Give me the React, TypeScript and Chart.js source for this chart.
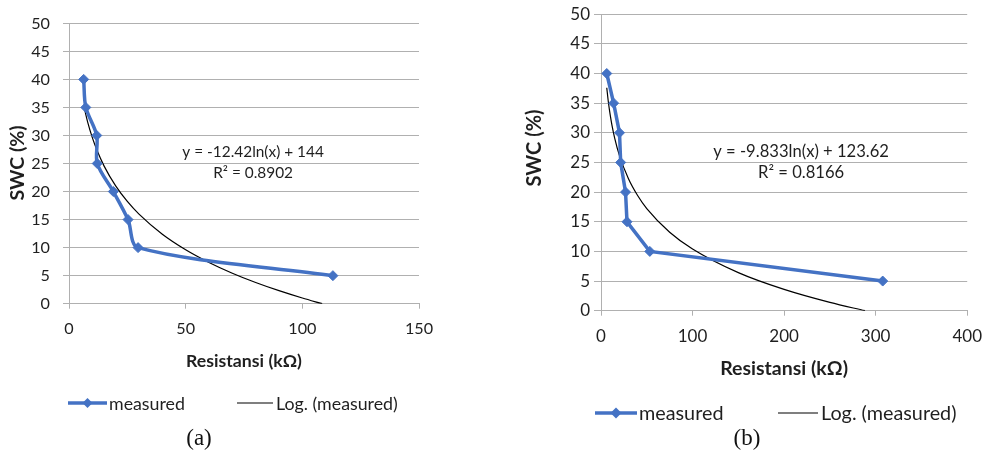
import React, { useEffect, useRef } from "react";
import { Chart, registerables } from "chart.js";

Chart.register(...registerables);

// ---------- data ----------
const swcLevels = [40, 35, 30, 25, 20, 15, 10, 5];
const resistanceA = [6.3, 7.2, 11.9, 12.1, 19.0, 25.3, 29.6, 113.1];
const resistanceB = [6.3, 13.8, 20.2, 21.5, 26.8, 28.4, 53.3, 307.7];

// logarithmic trend lines
const trendAX = [6.3, 8, 10, 12, 15, 20, 25, 30, 40, 50, 60, 70, 80, 90, 100, 108.5];
const trendAY = [35.35, 32.38, 29.61, 27.35, 24.58, 21.0, 18.23, 15.97, 12.39, 9.62, 7.36, 5.44, 3.78, 2.32, 1.01, 0];
const trendBX = [6.3, 8, 10, 12, 15, 20, 30, 40, 50, 75, 100, 150, 200, 250, 288.4];
const trendBY = [37.59, 35.24, 33.05, 31.26, 29.06, 26.23, 22.25, 19.42, 17.22, 13.24, 10.41, 6.42, 3.59, 1.4, 0];

const equationA = ["y = -12.42ln(x) + 144", "R² = 0.8902"];
const equationB = ["y = -9.833ln(x) + 123.62", "R² = 0.8166"];
const equationPosA = { x: 78.9, y: 27.1 };
const equationPosB = { x: 218.6, y: 26.9 };

const seriesName = "measured";
const trendName = "Log. (measured)";
const xTitle = "Resistansi (kΩ)";
const yTitle = "SWC (%)";
const captions = ["(a)", "(b)"];

const yMax = 50;
const yStep = 5;
const xMaxA = 150;
const xStepA = 50;
const xMaxB = 400;
const xStepB = 100;

// ---------- styles ----------
const BLUE = "#4472C4";
const GRID = "#b0b0b0";
const TEXT = "#1f1f1f";
const FONT = "Lato, 'Noto Sans', sans-serif";

const overlayPlugin = {
  id: "overlay",
  afterDraw(chart: any, _args: any, opts: any) {
    const ctx = chart.ctx as CanvasRenderingContext2D;
    ctx.save();
    ctx.fillStyle = TEXT;

    // y-axis title
    ctx.save();
    ctx.font = `bold ${opts.yTitleSize}px ${FONT}`;
    ctx.translate(opts.yTitleX, opts.yTitleY);
    ctx.rotate(-Math.PI / 2);
    ctx.textAlign = "center";
    ctx.textBaseline = "middle";
    ctx.fillText(yTitle, 0, 0);
    ctx.restore();

    // equation
    ctx.font = `${opts.eqSize}px ${FONT}`;
    ctx.textAlign = "center";
    ctx.textBaseline = "middle";
    const ex = chart.scales.x.getPixelForValue(opts.eqPos.x);
    const ey = chart.scales.y.getPixelForValue(opts.eqPos.y);
    opts.equation.forEach((line: string, i: number) => {
      ctx.fillText(line, ex, ey + i * opts.eqGap);
    });

    // legend
    const ly = opts.legendY;
    const ds0 = chart.data.datasets[0];
    const ds1 = chart.data.datasets[1];
    ctx.font = `${opts.legendSize}px ${FONT}`;
    ctx.textAlign = "left";
    ctx.textBaseline = "middle";
    // item 1
    const [a1, a2] = opts.item1;
    ctx.strokeStyle = ds0.borderColor;
    ctx.lineWidth = ds0.borderWidth;
    ctx.beginPath();
    ctx.moveTo(a1, ly);
    ctx.lineTo(a2, ly);
    ctx.stroke();
    const cx = (a1 + a2) / 2;
    const r = opts.legendMarker;
    ctx.fillStyle = ds0.pointBackgroundColor;
    ctx.beginPath();
    ctx.moveTo(cx - r, ly);
    ctx.lineTo(cx, ly - r);
    ctx.lineTo(cx + r, ly);
    ctx.lineTo(cx, ly + r);
    ctx.closePath();
    ctx.fill();
    ctx.fillStyle = TEXT;
    ctx.fillText(ds0.label, a2 + 2, ly + 1);
    // item 2
    const [b1, b2] = opts.item2;
    ctx.strokeStyle = ds1.borderColor;
    ctx.lineWidth = ds1.borderWidth;
    ctx.beginPath();
    ctx.moveTo(b1, ly);
    ctx.lineTo(b2, ly);
    ctx.stroke();
    ctx.fillText(ds1.label, b2 + 3, ly + 1);

    ctx.restore();
  },
};

type PanelCfg = {
  xs: number[];
  ys: number[];
  tx: number[];
  ty: number[];
  xMax: number;
  xStep: number;
  tension: number;
  padding: { left: number; right: number; top: number; bottom: number };
  yAxisWidth: number;
  xAxisHeight: number;
  tickSize: number;
  yTickPad: number;
  xTickPad: number;
  yTickLen: number;
  xTickLen: number;
  titleSize: number;
  titlePadBottom: number;
  overlay: any;
};

function buildConfig(p: PanelCfg): any {
  return {
    type: "line",
    data: {
      datasets: [
        {
          label: seriesName,
          data: p.xs.map((x, i) => ({ x, y: p.ys[i] })),
          borderColor: BLUE,
          backgroundColor: BLUE,
          pointBackgroundColor: BLUE,
          pointBorderColor: BLUE,
          borderWidth: 3.5,
          pointStyle: "rectRot",
          pointRadius: 5,
          pointBorderWidth: 1,
          tension: p.tension,
          order: 1,
        },
        {
          label: trendName,
          data: p.tx.map((x, i) => ({ x, y: p.ty[i] })),
          borderColor: "#000000",
          backgroundColor: "#000000",
          borderWidth: 1.2,
          pointRadius: 0,
          cubicInterpolationMode: "monotone",
          order: 2,
        },
      ],
    },
    options: {
      animation: false,
      responsive: false,
      devicePixelRatio: 1,
      layout: { padding: p.padding },
      plugins: {
        legend: { display: false },
        tooltip: { enabled: false },
        overlay: p.overlay,
      },
      scales: {
        x: {
          type: "linear",
          min: 0,
          max: p.xMax,
          afterFit: (s: any) => {
            s.height = p.xAxisHeight;
          },
          ticks: {
            stepSize: p.xStep,
            padding: p.xTickPad,
            color: TEXT,
            font: { family: FONT, size: p.tickSize },
            maxRotation: 0,
          },
          grid: {
            drawOnChartArea: false,
            drawTicks: true,
            tickLength: p.xTickLen,
            color: GRID,
            lineWidth: 1,
          },
          border: { display: true, color: GRID, width: 1 },
          title: {
            display: true,
            text: xTitle,
            color: TEXT,
            font: { family: FONT, size: p.titleSize, weight: "bold" },
            padding: { top: 0, bottom: p.titlePadBottom },
          },
        },
        y: {
          type: "linear",
          min: 0,
          max: yMax,
          afterFit: (s: any) => {
            s.width = p.yAxisWidth;
          },
          ticks: {
            stepSize: yStep,
            padding: p.yTickPad,
            color: TEXT,
            font: { family: FONT, size: p.tickSize },
          },
          grid: {
            drawOnChartArea: true,
            drawTicks: true,
            tickLength: p.yTickLen,
            color: GRID,
            lineWidth: 1,
          },
          border: { display: true, color: GRID, width: 1 },
        },
      },
    },
    plugins: [overlayPlugin],
  };
}

const panelA: PanelCfg = {
  xs: resistanceA,
  ys: swcLevels,
  tx: trendAX,
  ty: trendAY,
  xMax: xMaxA,
  xStep: xStepA,
  tension: 0.3,
  padding: { left: 0, right: 71, top: 23.3, bottom: 78 },
  yAxisWidth: 69,
  xAxisHeight: 71.3,
  tickSize: 16.2,
  yTickPad: 13,
  xTickPad: 10.4,
  yTickLen: 6,
  xTickLen: 5,
  titleSize: 17.7,
  titlePadBottom: 2.7,
  overlay: {
    yTitleSize: 19.5,
    yTitleX: 18,
    yTitleY: 163,
    eqSize: 15.4,
    equation: equationA,
    eqPos: equationPosA,
    eqGap: 21,
    legendY: 403,
    legendSize: 17.8,
    legendMarker: 5,
    item1: [68, 107],
    item2: [237, 273],
  },
};

const panelB: PanelCfg = {
  xs: resistanceB,
  ys: swcLevels,
  tx: trendBX,
  ty: trendBY,
  xMax: xMaxB,
  xStep: xStepB,
  tension: 0,
  padding: { left: 0, right: 493 - 473.7, top: 11.7, bottom: 68 },
  yAxisWidth: 101,
  xAxisHeight: 74.3,
  tickSize: 17,
  yTickPad: 4,
  xTickPad: 11,
  yTickLen: 7,
  xTickLen: 5,
  titleSize: 19.5,
  titlePadBottom: 4.3,
  overlay: {
    yTitleSize: 20,
    yTitleX: 35,
    yTitleY: 148,
    eqSize: 16.6,
    equation: equationB,
    eqPos: equationPosB,
    eqGap: 21.5,
    legendY: 413,
    legendSize: 19.8,
    legendMarker: 5.5,
    item1: [95, 137],
    item2: [278, 318],
  },
};

function ChartPanel({ cfg, left, width }: { cfg: PanelCfg; left: number; width: number }) {
  const ref = useRef<HTMLCanvasElement | null>(null);
  useEffect(() => {
    if (!ref.current) return;
    const chart = new Chart(ref.current, buildConfig(cfg));
    return () => chart.destroy();
  }, [cfg]);
  return (
    <canvas
      ref={ref}
      width={width}
      height={453}
      style={{ position: "absolute", left, top: 0, width, height: 453 }}
    />
  );
}

export default function App() {
  const capStyle: React.CSSProperties = {
    position: "absolute",
    top: 437,
    transform: "translate(-50%, -50%)",
    fontFamily: "'Liberation Serif', 'DejaVu Serif', serif",
    fontSize: 23,
    color: "#111",
    lineHeight: 1,
    whiteSpace: "nowrap",
  };
  return (
    <div
      style={{
        position: "fixed",
        left: 0,
        top: 0,
        width: 993,
        height: 453,
        background: "#ffffff",
        overflow: "hidden",
      }}
    >
      <ChartPanel cfg={panelA} left={0} width={490} />
      <ChartPanel cfg={panelB} left={500} width={493} />
      <div style={{ ...capStyle, left: 199 }}>{captions[0]}</div>
      <div style={{ ...capStyle, left: 747 }}>{captions[1]}</div>
    </div>
  );
}
